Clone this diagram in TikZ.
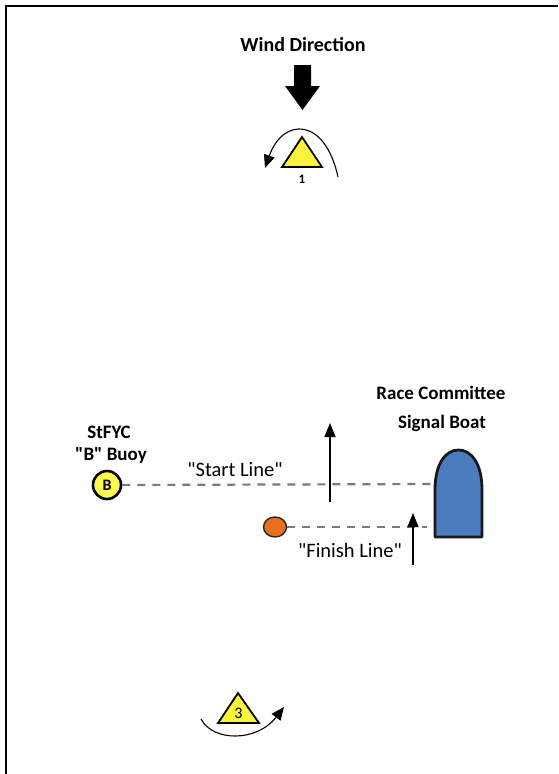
\documentclass[tikz,border=0pt]{standalone}
\usepackage{fontspec}
\newfontfamily\carl{Carlito}
\usetikzlibrary{arrows.meta,shapes.geometric}
\definecolor{markyellow}{RGB}{250,245,60}
\definecolor{buoyyellow}{RGB}{255,250,80}
\definecolor{buoyorange}{RGB}{232,112,30}
\definecolor{boatblue}{RGB}{75,125,190}
\definecolor{lineblue}{RGB}{105,128,140}
\tikzset{
  lbl/.style={font=\carl\fontsize{19}{21}\selectfont\bfseries, inner sep=0pt},
  plainlbl/.style={font=\carl\fontsize{20.5}{22}\selectfont, inner sep=0pt},
  markshape/.style={draw=black, line width=1.8pt, fill=markyellow, line join=miter},
  courseline/.style={draw=lineblue, line width=2.2pt, dash pattern=on 8pt off 7pt},
  dirarrow/.style={draw=black, line width=1.3pt, -{Triangle[length=14pt,width=11pt]}},
  roundarrow/.style={draw=black, line width=1.1pt, -{Triangle[length=13pt,width=11pt]}},
}
\begin{document}
\begin{tikzpicture}[x=1pt,y=-1pt]
\useasboundingbox (0,0) rectangle (558,774);
% frame (top and left edges only)
\draw[line width=2.2pt] (6,774) -- (6,6) -- (558,6);

% wind direction
\node[lbl, font=\carl\fontsize{20}{22}\selectfont\bfseries] (wind) at (303,45) {Wind Direction};
\fill[black] (294,65) -- (311,65) -- (311,86) -- (320,86) -- (302.5,110) -- (285,86) -- (294,86) -- cycle;

% mark 1
\draw[markshape] (282,167) -- (302,137) -- (322,167) -- cycle;
\node[lbl, font=\carl\fontsize{13}{14}\selectfont\bfseries] (m1) at (302,179) {1};
\coordinate (m1s) at (338,177);
\coordinate (m1e) at (265,168);
\draw[roundarrow] (m1s) .. controls (325,117) and (283,117) .. (m1e);

% B buoy
\node[lbl] (stfyc) at (109,432) {StFYC};
\node[lbl] (bbuoy) at (111,456) {"B" Buoy};
\node[circle, draw=black, line width=2.6pt, fill=buoyyellow, minimum size=28pt, inner sep=0pt,
      font=\carl\fontsize{16}{17}\selectfont\bfseries] (B) at (107,485) {B};
\node[plainlbl] (startlbl) at (235,470) {"Start Line"};

% boat
\draw[line width=2.8pt, draw=black!90, fill=boatblue, line join=round]
  (435,537) -- (435,490) .. controls (435,463) and (446,450) .. (458.5,450)
  .. controls (471,450) and (482,463) .. (482,490) -- (482,537) -- cycle;
\coordinate (boatS) at (433,484);
\coordinate (boatF) at (427,527);
\node[lbl] (rc) at (441,393) {Race Committee};
\node[lbl] (sb) at (442,423) {Signal Boat};

% start line
\draw[courseline] (B.east) -- (boatS);
\coordinate (sa1) at (330,502);
\coordinate (sa2) at (330,423);
\draw[dirarrow] (sa1) -- (sa2);

% orange buoy and finish line
\node[ellipse, draw=black!85, line width=1.4pt, fill=buoyorange, minimum width=23pt, minimum height=20pt, inner sep=0pt] (O) at (275,527) {};
\draw[courseline] (O.east) -- (boatF);
\node[plainlbl] (finishlbl) at (350,550) {"Finish Line"};
\coordinate (fa1) at (413,565);
\coordinate (fa2) at (413,513);
\draw[dirarrow] (fa1) -- (fa2);

% mark 3
\draw[markshape] (218,723) -- (238,693) -- (259,723) -- cycle;
\node[font=\carl\fontsize{16}{17}\selectfont, inner sep=0pt] (m3) at (238.5,713) {3};
\coordinate (m3s) at (201,719);
\coordinate (m3e) at (284,707);
\draw[roundarrow] (m3s) .. controls (213,742) and (257,742) .. (m3e);
\end{tikzpicture}
\end{document}
